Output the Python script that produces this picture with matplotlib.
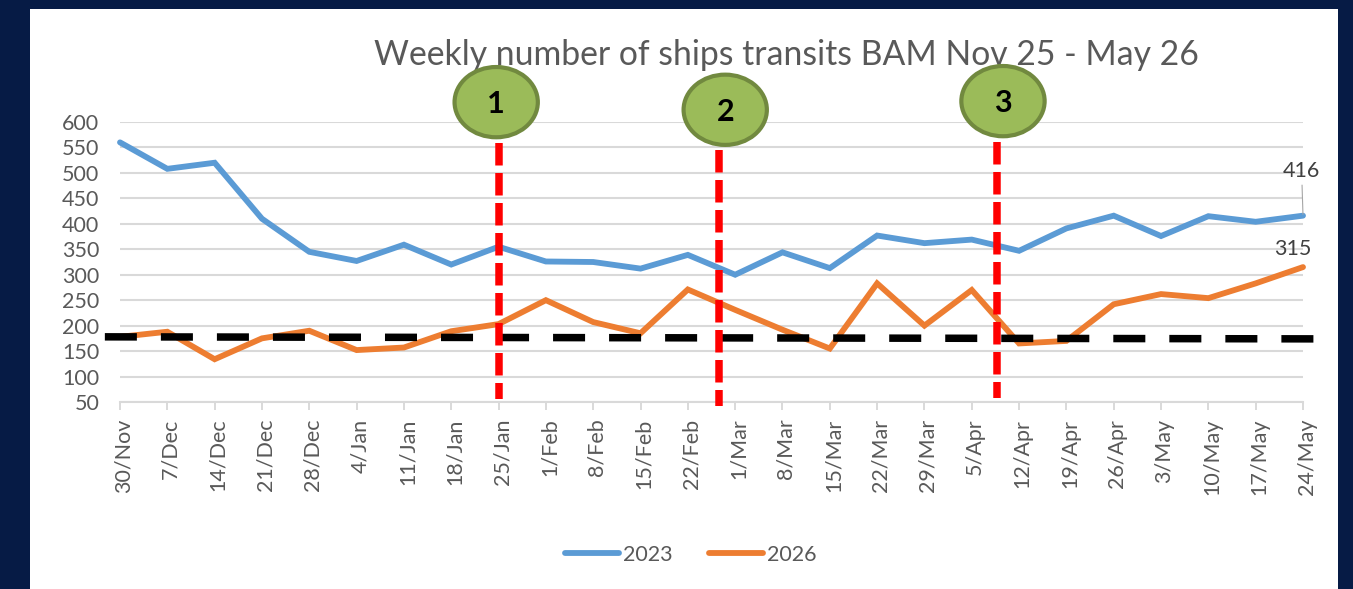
import matplotlib
matplotlib.use('Agg')
import matplotlib.pyplot as plt
from matplotlib.patches import Ellipse, Rectangle
from matplotlib.transforms import ScaledTranslation

weeks = ['30/Nov', '7/Dec', '14/Dec', '21/Dec', '28/Dec', '4/Jan', '11/Jan', '18/Jan', '25/Jan',
         '1/Feb', '8/Feb', '15/Feb', '22/Feb', '1/Mar', '8/Mar', '15/Mar', '22/Mar', '29/Mar',
         '5/Apr', '12/Apr', '19/Apr', '26/Apr', '3/May', '10/May', '17/May', '24/May']
ships_2023 = [560, 508, 520, 410, 345, 327, 359, 320, 355, 326, 325, 312, 339,
              300, 344, 313, 377, 362, 369, 347, 391, 416, 376, 415, 404, 416]
ships_2026 = [178, 188, 134, 175, 190, 152, 157, 189, 203, 250, 207, 185, 271,
              231, 192, 155, 283, 200, 270, 165, 170, 242, 262, 254, 283, 315]
y_ticks = [50, 100, 150, 200, 250, 300, 350, 400, 450, 500, 550, 600]

# hand drawn overlays, in data units
threshold_x = [-0.32, 25.22]
threshold_y = [178, 174]
event_labels = ['1', '2', '3']
event_x = [8.0, 12.65, 18.53]
event_top = [559, 545, 561]
event_bottom = [56, 42, 58]
circle_x = [7.95, 12.79, 18.66]
circle_y = [639, 624, 641]

NAVY = '#061B45'
GREY = '#595959'
GRID = '#D9D9D9'
W, H = 1353, 589

plt.rcParams['font.family'] = ['Lato', 'DejaVu Sans']

fig = plt.figure(figsize=(W / 100, H / 100), dpi=100, facecolor=NAVY)
fig.patches.append(Rectangle((30 / W, 0), 1308 / W, 580 / H, transform=fig.transFigure,
                             facecolor='white', edgecolor='none', zorder=-1))

ax = fig.add_axes([120 / W, 1 - 402 / H, 1183 / W, 280 / H])
ax.patch.set_alpha(0)
x = list(range(len(weeks)))

ax.plot(x, ships_2023, color='#5B9BD5', lw=4.2, label='2023', clip_on=False,
        solid_capstyle='round', solid_joinstyle='miter', zorder=3)
ax.plot(x, ships_2026, color='#ED7D31', lw=4.2, label='2026', clip_on=False,
        solid_capstyle='round', solid_joinstyle='miter', zorder=3)

ax.set_xlim(0, len(weeks) - 1)
ax.set_ylim(50, 600)
ax.set_yticks(y_ticks)
ax.set_xticks(x)
ax.set_xticklabels(weeks, rotation=90, fontsize=15.5, color=GREY)
ax.tick_params(axis='x', length=6, width=1.4, color=GRID, pad=6)
ax.tick_params(axis='y', length=0, pad=15, labelsize=15.5, labelcolor=GREY)
# labels sit a little right of their ticks in the original
for lab in ax.get_xticklabels():
    lab.set_transform(lab.get_transform() + ScaledTranslation(3.5 / 100, 0, fig.dpi_scale_trans))
ax.grid(axis='y', color=GRID, lw=1.5, zorder=1)
ax.set_axisbelow(True)
for side in ['top', 'right', 'left']:
    ax.spines[side].set_visible(False)
ax.spines['bottom'].set_color(GRID)
ax.spines['bottom'].set_linewidth(1.5)

ax.plot(threshold_x, threshold_y, color='black', lw=5.4, dashes=(4.27, 3.2), clip_on=False, zorder=4)

for ex, top, bottom in zip(event_x, event_top, event_bottom):
    ax.plot([ex, ex], [top, bottom], color='#FF0000', lw=5.4, dashes=(3, 1), clip_on=False, zorder=5)

ax.text(786 / W, 1 - 55 / H, 'Weekly number of ships transits BAM Nov 25 - May 26',
        transform=fig.transFigure, ha='center', va='center', fontsize=24.3, color=GREY, zorder=2)

for label, cx, cy in zip(event_labels, circle_x, circle_y):
    ax.add_patch(Ellipse((cx, cy), 1.76, 138, facecolor='#9BBB59', edgecolor='#71893F',
                         lw=3, clip_on=False, zorder=6))
    ax.annotate(label, xy=(cx, cy), xytext=(0, -1.5), textcoords='offset points', ha='center', va='center',
                fontsize=22, fontweight='bold', color='black', zorder=7, annotation_clip=False)

ax.annotate(str(ships_2023[-1]), xy=(x[-1], ships_2023[-1]), xytext=(-1, 25), textcoords='offset points',
            ha='center', va='bottom', fontsize=15.5, color='#404040',
            arrowprops=dict(arrowstyle='-', color='#A6A6A6', lw=0.8, shrinkA=1, shrinkB=1), zorder=6,
            annotation_clip=False)
ax.annotate(str(ships_2026[-1]), xy=(x[-1], ships_2026[-1]), xytext=(-7, 5.5), textcoords='offset points',
            ha='center', va='bottom', fontsize=15.5, color='#404040', zorder=6, annotation_clip=False)

ax.legend(loc='center', bbox_to_anchor=(691 / W, 1 - 555 / H), bbox_transform=fig.transFigure, ncol=2,
          frameon=False, fontsize=15.5, labelcolor=GREY, handlelength=2.5, handletextpad=0.2,
          columnspacing=1.7, borderpad=0)

fig.savefig('out.png', dpi=100, facecolor=NAVY)
